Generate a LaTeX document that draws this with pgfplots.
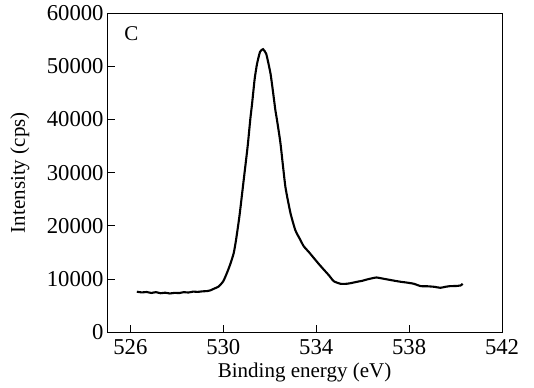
\documentclass[border=0pt]{standalone}
\usepackage{fontspec}
\setmainfont{Liberation Serif}
\usepackage{pgfplots}
\usetikzlibrary{calc}
\pgfplotsset{compat=1.18}
\begin{document}
\begin{tikzpicture}
\begin{axis}[
  name=main,
  scale only axis,
  width=188pt, height=152pt,
  xmin=525, xmax=542, ymin=0, ymax=60000,
  xtick={526,530,534,538,542},
  ytick={0,10000,20000,30000,40000,50000,60000},
  scaled y ticks=false,
  /pgf/number format/1000 sep={},
  /pgf/number format/assume math mode=true,
  ticklabel style={font=\fontsize{10.8}{13}\selectfont},
  yticklabel style={inner xsep=1.5pt},
  tick align=inside,
  xtick pos=bottom, ytick pos=left,
  major tick length=3.6pt,
  xlabel={Binding energy (eV)},
  ylabel={Intensity (cps)},
  xlabel style={at={(axis description cs:0.5,0)}, anchor=center, yshift=-19pt},
  ylabel style={at={(axis description cs:0,0.5)}, anchor=center, yshift=41.5pt},
  axis line style={line width=0.5pt},
  tick style={line width=0.5pt, black},
  clip=false,
]
\addplot[black, line width=1pt, smooth, tension=0.3] coordinates {
(526.28,7630) (526.5,7500) (526.7,7580) (526.9,7400) (527.1,7550)
(527.3,7350) (527.5,7450) (527.7,7300) (527.9,7420) (528.1,7380)
(528.3,7550) (528.5,7480) (528.7,7650) (528.9,7600) (529.1,7700)
(529.3,7750) (529.45,7900) (529.6,8200) (529.8,8600) (530.0,9600)
(530.16,11190) (530.3,12800) (530.45,14900) (530.55,17400)
(530.7,22000) (530.88,28690) (531.05,35000) (531.16,39940) (531.24,43000)
(531.35,47600) (531.45,50400) (531.58,52700) (531.71,53200)
(531.85,52300) (532.03,48690) (532.14,45200) (532.24,41810) (532.31,39940)
(532.46,35560) (532.67,27440) (532.89,22440) (533.1,19200)
(533.3,17500) (533.46,16190) (533.7,15000) (533.89,14000) (534.1,12900)
(534.32,11810) (534.55,10700) (534.75,9620) (535.04,9130) (535.33,9130)
(535.55,9300) (535.76,9500) (536.0,9700) (536.19,9940) (536.4,10150)
(536.59,10310) (536.8,10150) (537.06,9940) (537.3,9750) (537.63,9500)
(537.9,9350) (538.2,9130) (538.49,8690) (538.8,8650) (539.07,8560)
(539.35,8370) (539.55,8550) (539.78,8690) (540.0,8700) (540.22,8810) (540.3,9130)
};
\node[anchor=west] at (rel axis cs:0.025,0.935) {C};
\end{axis}
\pgfresetboundingbox
\path[use as bounding box] ($(main.south west)+(-51pt,-26.2pt)$) rectangle ($(main.north east)+(15.2pt,6.2pt)$);
\end{tikzpicture}
\end{document}
